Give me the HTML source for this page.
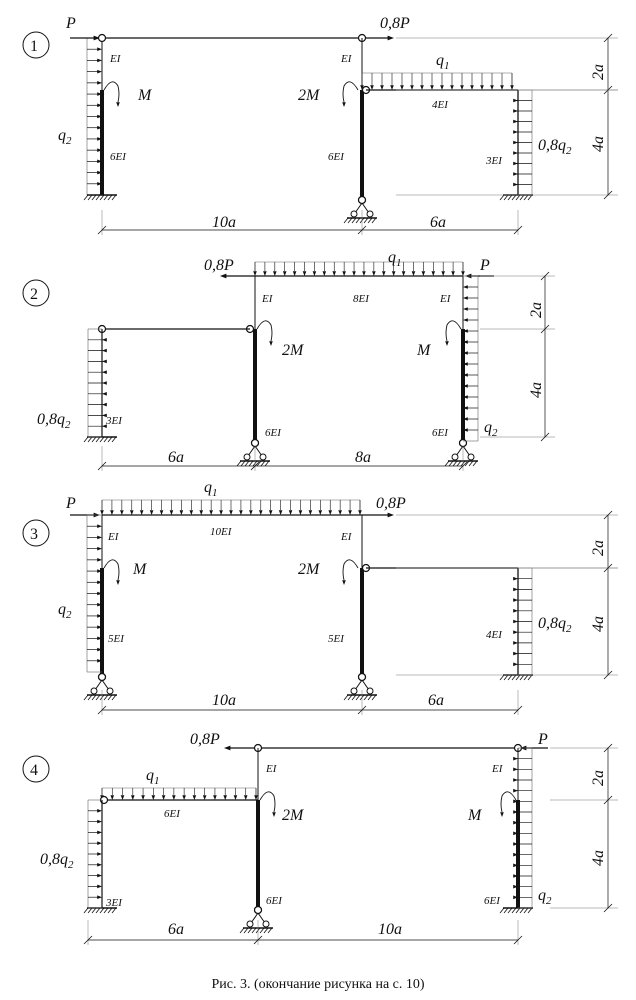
<!DOCTYPE html>
<html><head><meta charset="utf-8"><style>
html,body{margin:0;padding:0;background:#fff;width:636px;height:1000px;overflow:hidden}
svg text{font-family:"Liberation Serif",serif;font-style:italic;fill:#111}
</style></head><body>
<svg id="s" width="636" height="1000" viewBox="0 0 636 1000" xmlns="http://www.w3.org/2000/svg">
<g id="g" stroke="#111" fill="none"></g>
<!-- Diagram 1 -->
<circle cx="36" cy="45" r="13" stroke="#111" fill="none"/>
<text x="30" y="51" font-size="16" style="font-style:normal">1</text>
<text x="66" y="28" font-size="16">P</text>
<text x="380" y="28" font-size="16">0,8P</text>
<text x="110" y="62" font-size="11">EI</text>
<text x="138" y="100" font-size="16">M</text>
<text x="58" y="140" font-size="16">q<tspan font-size="11" dy="4">2</tspan></text>
<text x="110" y="160" font-size="11">6EI</text>
<text x="341" y="62" font-size="11">EI</text>
<text x="298" y="100" font-size="16">2M</text>
<text x="436" y="65" font-size="16">q<tspan font-size="11" dy="4">1</tspan></text>
<text x="432" y="108" font-size="11">4EI</text>
<text x="328" y="160" font-size="11">6EI</text>
<text x="486" y="164" font-size="11">3EI</text>
<text x="538" y="150" font-size="16">0,8q<tspan font-size="11" dy="4">2</tspan></text>
<text x="212" y="227" font-size="16">10a</text>
<text x="430" y="227" font-size="16">6a</text>
<text transform="translate(603,80) rotate(-90)" font-size="16">2a</text>
<text transform="translate(603,152) rotate(-90)" font-size="16">4a</text>
<!-- Diagram 2 -->
<circle cx="36" cy="293" r="13" stroke="#111" fill="none"/>
<text x="30" y="299" font-size="16" style="font-style:normal">2</text>
<text x="204" y="270" font-size="16">0,8P</text>
<text x="480" y="270" font-size="16">P</text>
<text x="388" y="262" font-size="16">q<tspan font-size="11" dy="4">1</tspan></text>
<text x="353" y="302" font-size="11">8EI</text>
<text x="262" y="302" font-size="11">EI</text>
<text x="440" y="302" font-size="11">EI</text>
<text x="282" y="355" font-size="16">2M</text>
<text x="417" y="355" font-size="16">M</text>
<text x="37" y="424" font-size="16">0,8q<tspan font-size="11" dy="4">2</tspan></text>
<text x="106" y="424" font-size="11">3EI</text>
<text x="265" y="436" font-size="11">6EI</text>
<text x="432" y="436" font-size="11">6EI</text>
<text x="484" y="432" font-size="16">q<tspan font-size="11" dy="4">2</tspan></text>
<text x="168" y="462" font-size="16">6a</text>
<text x="355" y="462" font-size="16">8a</text>
<text transform="translate(541,318) rotate(-90)" font-size="16">2a</text>
<text transform="translate(541,398) rotate(-90)" font-size="16">4a</text>
<!-- Diagram 3 -->
<circle cx="36" cy="533" r="13" stroke="#111" fill="none"/>
<text x="30" y="539" font-size="16" style="font-style:normal">3</text>
<text x="66" y="508" font-size="16">P</text>
<text x="376" y="508" font-size="16">0,8P</text>
<text x="204" y="492" font-size="16">q<tspan font-size="11" dy="4">1</tspan></text>
<text x="210" y="535" font-size="11">10EI</text>
<text x="108" y="540" font-size="11">EI</text>
<text x="341" y="540" font-size="11">EI</text>
<text x="133" y="574" font-size="16">M</text>
<text x="298" y="574" font-size="16">2M</text>
<text x="58" y="614" font-size="16">q<tspan font-size="11" dy="4">2</tspan></text>
<text x="108" y="642" font-size="11">5EI</text>
<text x="328" y="642" font-size="11">5EI</text>
<text x="486" y="638" font-size="11">4EI</text>
<text x="538" y="628" font-size="16">0,8q<tspan font-size="11" dy="4">2</tspan></text>
<text x="212" y="705" font-size="16">10a</text>
<text x="428" y="705" font-size="16">6a</text>
<text transform="translate(603,556) rotate(-90)" font-size="16">2a</text>
<text transform="translate(603,632) rotate(-90)" font-size="16">4a</text>
<!-- Diagram 4 -->
<circle cx="36" cy="769" r="13" stroke="#111" fill="none"/>
<text x="30" y="775" font-size="16" style="font-style:normal">4</text>
<text x="190" y="744" font-size="16">0,8P</text>
<text x="538" y="744" font-size="16">P</text>
<text x="146" y="780" font-size="16">q<tspan font-size="11" dy="4">1</tspan></text>
<text x="164" y="817" font-size="11">6EI</text>
<text x="266" y="772" font-size="11">EI</text>
<text x="492" y="772" font-size="11">EI</text>
<text x="282" y="820" font-size="16">2M</text>
<text x="468" y="820" font-size="16">M</text>
<text x="40" y="864" font-size="16">0,8q<tspan font-size="11" dy="4">2</tspan></text>
<text x="106" y="906" font-size="11">3EI</text>
<text x="266" y="904" font-size="11">6EI</text>
<text x="484" y="904" font-size="11">6EI</text>
<text x="538" y="900" font-size="16">q<tspan font-size="11" dy="4">2</tspan></text>
<text x="168" y="934" font-size="16">6a</text>
<text x="378" y="934" font-size="16">10a</text>
<text transform="translate(603,786) rotate(-90)" font-size="16">2a</text>
<text transform="translate(603,866) rotate(-90)" font-size="16">4a</text>
<text x="318" y="988" font-size="14" text-anchor="middle" style="font-style:normal;font-family:'Liberation Serif',serif">Рис. 3. (окончание рисунка на с. 10)</text>
</svg>
<script>
var g=document.getElementById('g'),NS="http://www.w3.org/2000/svg";
function el(t,a){var e=document.createElementNS(NS,t);for(var k in a)e.setAttribute(k,a[k]);g.appendChild(e);return e;}
function L(x1,y1,x2,y2,w,c){el('line',{x1:x1,y1:y1,x2:x2,y2:y2,'stroke-width':w||1,stroke:c||'#111'});}
function tri(x,y,dir,s){s=s||4;var p;
 if(dir=='r')p=[x,y,x-s*1.6,y-s*0.6,x-s*1.6,y+s*0.6];
 if(dir=='l')p=[x,y,x+s*1.6,y-s*0.6,x+s*1.6,y+s*0.6];
 if(dir=='d')p=[x,y,x-s*0.6,y-s*1.6,x+s*0.6,y-s*1.6];
 el('polygon',{points:p.join(' '),fill:'#111',stroke:'none'});}
function hinge(x,y){el('circle',{cx:x,cy:y,r:3.5,fill:'#fff',stroke:'#111','stroke-width':1.2});}
function fixed(x,y){L(x-15,y,x+15,y,1.5);for(var i=-14;i<=14;i+=4)L(x+i,y,x+i-4,y+5,0.8);}
function pin(x,y){hinge(x,y);L(x,y+3,x-7,y+13,1);L(x,y+3,x+7,y+13,1);
 el('circle',{cx:x-8,cy:y+14,r:3,fill:'#fff',stroke:'#111'});el('circle',{cx:x+8,cy:y+14,r:3,fill:'#fff',stroke:'#111'});
 L(x-15,y+18,x+15,y+18,1.5);for(var i=-14;i<=14;i+=4)L(x+i,y+18,x+i-4,y+23,0.8);hinge(x,y);}
function qdown(x1,x2,yt,yb){L(x1,yt,x2,yt,0.6,'#666');L(x2,yt,x2,yb,0.6,'#666');L(x1,yt,x1,yb,0.6,'#666');
 var n=Math.round((x2-x1)/10);for(var i=0;i<=n;i++){var x=x1+(x2-x1)*i/n;L(x,yt,x,yb-5,0.6);tri(x,yb,'d',3);}}
function qside(xo,xc,y1,y2,dir){L(xo,y1,xo,y2,0.6,'#666');L(xo,y1,xc,y1,0.6,'#666');L(xo,y2,xc,y2,0.6,'#666');
 var n=Math.round((y2-y1)/11);for(var i=1;i<n;i++){var y=y1+(y2-y1)*i/n;
 if(dir=='r'){L(xo,y,xc-4,y,0.7);tri(xc,y,'r',3);}else{L(xo,y,xc+4,y,0.7);tri(xc,y,'l',3);}}}
function moment(x,y,side){var s=side||1;el('path',{d:'M'+x+' '+y+' Q'+(x+s*8)+' '+(y-14)+' '+(x+s*14)+' '+(y-4)+' Q'+(x+s*16)+' '+(y+4)+' '+(x+s*14)+' '+(y+12),'stroke-width':0.9});tri(x+s*14,y+17,'d',3);}
function vdim(x,ys,ext){L(x,ys[0],x,ys[ys.length-1],0.7);ys.forEach(function(y){L(ext,y,x+10,y,0.5,'#777');L(x-4,y+4,x+4,y-4,0.8);});}
function hdim(y,xs){L(xs[0],y,xs[xs.length-1],y,0.7);xs.forEach(function(x){L(x,y-20,x,y+5,0.5,'#777');L(x-4,y+4,x+4,y-4,0.8);});}
// D1
qside(87,102,38,195,'r');
L(70,38,98,38,1.2);tri(100,38,'r');
L(102,38,102,90,1);L(102,90,102,195,4);fixed(102,195);
L(102,38,388,38,1.3);tri(394,38,'r');hinge(102,38);hinge(362,38);
L(362,38,362,90,1);L(362,90,362,198,4);pin(362,200);hinge(366,90);
qdown(362,512,73,90);L(366,90,518,90,1.3);
L(518,90,518,195,1.3);fixed(518,195);qside(532,518,90,195,'r');
moment(104,90,1);moment(358,90,-1);
vdim(608,[38,90,195],396);L(532,90,618,90,0.5,'#777');
hdim(230,[102,362,518]);
// D2
qdown(255,463,262,276);
L(224,276,463,276,1.3);tri(220,276,'l');L(494,276,468,276,1.2);tri(465,276,'l');
L(255,276,255,329,1);L(255,329,255,441,4);pin(255,443);hinge(250,329);
L(102,329,250,329,1.2);hinge(102,329);L(102,329,102,437,1.2);fixed(102,437);
qside(88,102,329,437,'l');
L(463,276,463,329,1);L(463,329,463,441,4);pin(463,443);
qside(478,463,276,441,'l');
moment(257,329,1);moment(461,329,-1);
vdim(545,[276,329,437],480);hdim(466,[102,255,463]);
// D3
qdown(102,360,500,515);
L(70,515,98,515,1.2);tri(100,515,'r');L(102,515,388,515,1.3);tri(394,515,'r');
L(102,515,102,568,1);L(102,568,102,675,4);pin(102,677);
qside(87,102,515,672,'r');
L(362,515,362,568,1);L(362,568,362,675,4);pin(362,677);hinge(366,568);
L(366,568,518,568,1.3);L(518,568,518,675,1.3);fixed(518,675);qside(532,518,568,675,'r');
moment(104,568,1);moment(358,568,-1);
vdim(608,[515,568,675],396);L(532,568,618,568,0.5,'#777');hdim(710,[102,362,518]);
// D4
L(262,748,520,748,1.3);L(258,748,228,748,1.3);tri(224,748,'l');L(548,748,523,748,1.2);tri(520,748,'l');
hinge(258,748);hinge(518,748);
L(258,748,258,800,1);L(258,800,258,908,4);pin(258,910);
qdown(102,256,788,800);L(102,800,258,800,1.3);hinge(104,800);
L(102,800,102,908,1.2);fixed(102,908);qside(88,102,800,908,'r');
L(518,748,518,800,1);L(518,800,518,908,4);fixed(518,908);qside(532,518,748,908,'r');
moment(260,800,1);moment(516,800,-1);
vdim(608,[748,800,908],550);hdim(940,[88,258,518]);
</script>
</body></html>
